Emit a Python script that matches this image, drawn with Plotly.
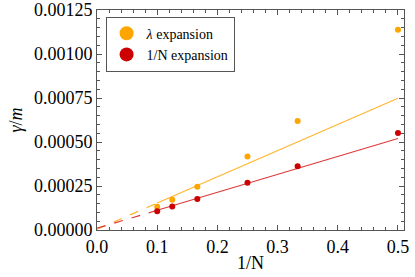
import numpy as np
import plotly.graph_objects as go

# data
inv_N = [1/10, 1/8, 1/6, 1/4, 1/3, 1/2]
lambda_exp = [0.000132, 0.000172, 0.000246, 0.000417, 0.000619, 0.001138]
invN_exp = [0.000106, 0.000133, 0.000176, 0.000269, 0.000362, 0.000551]
# linear fits
lambda_fit = (0.00149, 0.000004)   # slope, intercept
invN_fit = (0.00102, 0.000010)

series_names = ["<i>λ</i> expansion", "1/N expansion"]
point_colors = ["#FFA500", "#CC0000"]
line_colors = ["#FFB52E", "#DD3B3B"]

FONT = "Times New Roman, Liberation Serif, serif"
fig = go.Figure()

xmin, xmax = min(inv_N), max(inv_N)
for vals, fit, name, pc, lc in zip([lambda_exp, invN_exp], [lambda_fit, invN_fit],
                                   series_names, point_colors, line_colors):
    slope, icpt = fit
    xd = np.array([0.0, xmin])
    xs = np.array([xmin, xmax])
    fig.add_trace(go.Scatter(x=xd, y=slope * xd + icpt, mode="lines",
                             line=dict(color=lc, width=1.2, dash="dash"), showlegend=False))
    fig.add_trace(go.Scatter(x=xs, y=slope * xs + icpt, mode="lines",
                             line=dict(color=lc, width=1.2), showlegend=False))
    fig.add_trace(go.Scatter(x=inv_N, y=vals, mode="markers",
                             marker=dict(color=pc, size=6), showlegend=False))
    fig.add_trace(go.Scatter(x=[None], y=[None], mode="markers", name=name,
                             marker=dict(color=pc, size=14)))

axis_common = dict(showline=True, linecolor="#555555", linewidth=1, mirror="allticks",
                   ticks="inside", ticklen=5, tickcolor="#555555", showgrid=False,
                   zeroline=False, automargin=False,
                   tickfont=dict(family=FONT, size=18, color="black"))
fig.update_xaxes(range=[0, 0.51], tick0=0, dtick=0.1, tickformat=".1f",
                 minor=dict(ticks="inside", ticklen=3, dtick=0.02, tickcolor="#555555"),
                 title=dict(text="1/N", font=dict(family=FONT, size=18, color="black"), standoff=0),
                 **axis_common)
fig.update_yaxes(range=[0, 0.00125], tick0=0, dtick=0.00025, tickformat=".5f",
                 minor=dict(ticks="inside", ticklen=3, dtick=0.00005, tickcolor="#555555"),
                 title=dict(text="<i>γ</i>/<i>m</i>", font=dict(family=FONT, size=18, color="black"), standoff=6),
                 **axis_common)

fig.update_layout(width=415, height=277, margin=dict(l=97, r=11, t=10, b=47),
                  plot_bgcolor="white", paper_bgcolor="white",
                  font=dict(family=FONT),
                  legend=dict(x=0.028, y=0.97, xanchor="left", yanchor="top",
                              bordercolor="#555555", borderwidth=1, bgcolor="white",
                              font=dict(family=FONT, size=14, color="black"),
                              tracegroupgap=0, itemwidth=30))
fig.write_html("out.html", config={"displayModeBar": False},
               post_script="document.body.style.margin='0';")
